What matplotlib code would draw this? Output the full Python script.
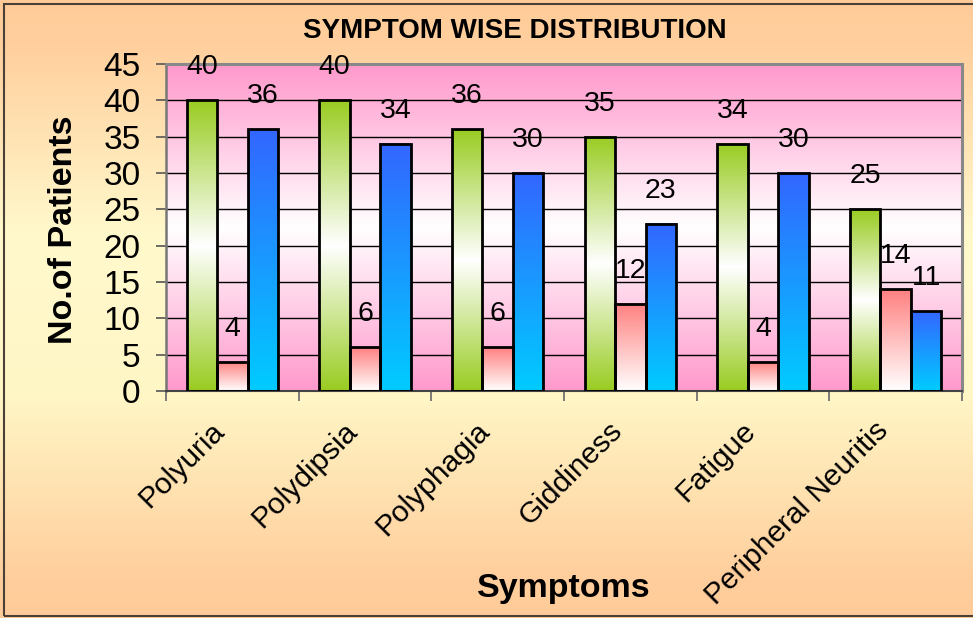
import numpy as np
import matplotlib
matplotlib.use("Agg")
import matplotlib.pyplot as plt
from matplotlib.colors import LinearSegmentedColormap
from matplotlib.patches import Rectangle
from matplotlib.transforms import ScaledTranslation

plt.rcParams['font.family'] = ['Liberation Sans', 'DejaVu Sans']

# ---- data ----
categories = ["Polyuria", "Polydipsia", "Polyphagia", "Giddiness", "Fatigue", "Peripheral Neuritis"]
series_green = [40, 40, 36, 35, 34, 25]
series_red = [4, 6, 6, 12, 4, 14]
series_blue = [36, 34, 30, 23, 30, 11]
yticks = [0, 5, 10, 15, 20, 25, 30, 35, 40, 45]
title = "SYMPTOM WISE DISTRIBUTION"
xlabel = "Symptoms"
ylabel = "No.of Patients"

W, H = 973, 618
fig = plt.figure(figsize=(W / 100, H / 100), dpi=100)

# figure background gradient
bgax = fig.add_axes([0, 0, 1, 1], zorder=-10)
fig_cmap = LinearSegmentedColormap.from_list(
    "figbg", [(0.0, "#FFCC99"), (0.07, "#FFCF9D"), (0.38, "#FFF9CC"),
              (0.64, "#FFF6C6"), (0.94, "#FFCE9C"), (1.0, "#FFCC99")])
grad = np.linspace(0, 1, 256).reshape(-1, 1)
bgax.imshow(grad, cmap=fig_cmap, extent=[0, 1, 0, 1], aspect='auto',
            interpolation='bilinear', origin='upper')
bgax.set_xlim(0, 1); bgax.set_ylim(0, 1)
bgax.axis('off')
fig.patches.append(Rectangle((4 / W, 2 / H), 1.2, 1 - 6 / H, transform=fig.transFigure,
                             fill=False, edgecolor="#4a4038", lw=1.5, zorder=-5))

left, right = 166 / W, 962 / W
bottom, top = 1 - 391 / H, 1 - 64 / H
ax = fig.add_axes([left, bottom, right - left, top - bottom])
ax.patch.set_visible(False)

# plot area gradient (pink - white - pink)
plot_cmap = LinearSegmentedColormap.from_list(
    "plotbg", [(0.0, "#FF99CC"), (0.5, "#FFFFFF"), (1.0, "#FF99CC")])
ax.imshow(grad, cmap=plot_cmap, extent=[0, 1, 0, 1], transform=ax.transAxes,
          aspect='auto', interpolation='bilinear', zorder=0)

x = np.arange(len(categories))
bw = 0.23
green_cmap = LinearSegmentedColormap.from_list("g", [(0, "#99CC22"), (0.5, "#FFFFFF"), (1, "#99CC22")])
red_cmap = LinearSegmentedColormap.from_list("r", [(0, "#FF8080"), (1, "#FFFFFF")])
blue_cmap = LinearSegmentedColormap.from_list("b", [(0, "#3366FF"), (1, "#00CCFF")])

for vals, off, cmap in [(series_green, -bw, green_cmap),
                        (series_red, 0.0, red_cmap),
                        (series_blue, bw, blue_cmap)]:
    bars = ax.bar(x + off, vals, width=bw, facecolor='none', edgecolor='black',
                  linewidth=2.0, zorder=3)
    for b, v in zip(bars, vals):
        x0, y0 = b.get_x(), b.get_y()
        ax.imshow(grad, cmap=cmap, extent=[x0, x0 + b.get_width(), y0, y0 + b.get_height()],
                  aspect='auto', interpolation='bilinear', origin='upper', zorder=2)
        ax.annotate(str(v), (x0 + b.get_width() / 2, v), xytext=(0, 18.7),
                    textcoords='offset points', ha='center', va='baseline',
                    fontsize=20.5, color='black', zorder=5)

ax.set_xlim(-0.5, len(categories) - 0.5)
ax.set_ylim(0, 45)

# grid
ax.set_yticks(yticks)
ax.yaxis.grid(True, color='black', linewidth=1.0, zorder=1)
ax.set_axisbelow(True)
ax.tick_params(axis='y', direction='out', length=7.2, width=1.2, color='#555555',
               labelsize=24, pad=11)

# x ticks: labels at centers, marks at boundaries
ax.set_xticks(x)
ax.set_xticklabels(categories, rotation=45, ha='right', va='center',
                   rotation_mode='anchor', fontsize=21.5)
ax.set_xticks(np.arange(-0.5, len(categories)), minor=True)
ax.tick_params(axis='x', which='major', length=0, pad=25.5)
ax.tick_params(axis='x', which='minor', direction='out', length=7.2, width=1.2, color='#666666')
off = ScaledTranslation(-0.12, 0, fig.dpi_scale_trans)
for lab in ax.get_xticklabels():
    lab.set_transform(lab.get_transform() + off)

for s in ['top', 'right']:
    ax.spines[s].set_color('#888888')
    ax.spines[s].set_linewidth(2.2)
ax.spines['left'].set_color('#777777')
ax.spines['left'].set_linewidth(1.8)
ax.spines['bottom'].set_color('#444444')
ax.spines['bottom'].set_linewidth(1.5)

fig.text(514.5 / W, 1 - 31 / H, title, ha='center', va='center', fontsize=20,
         fontweight='bold')
fig.text(64 / W, 1 - 230 / H, ylabel, rotation=90, ha='center', va='center',
         fontsize=24.5, fontweight='bold')
fig.text(564 / W, 1 - 597 / H, xlabel, ha='center', va='baseline', fontsize=24.5,
         fontweight='bold')

fig.savefig("out.png", dpi=100)
